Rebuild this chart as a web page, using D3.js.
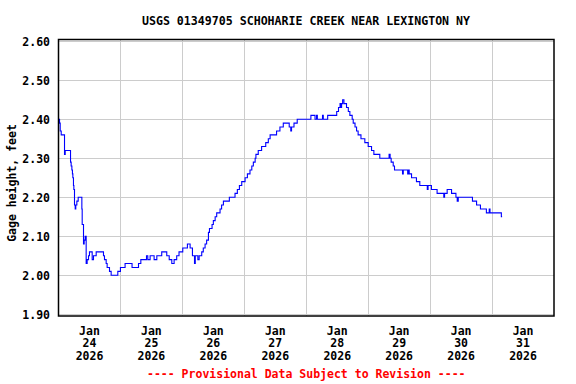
<!DOCTYPE html>
<html>
<head>
<meta charset="utf-8">
<script src="https://cdn.jsdelivr.net/npm/d3@7"></script>
<style>
  body { margin: 0; background: #fff; }
  text { font-family: "DejaVu Sans Mono", monospace; font-weight: bold; }
</style>
</head>
<body>
<script>
// hours after Jan 24 2026 00:00 and gage height (ft) at each step
const hours = [0, 0.4, 0.66, 1.05, 2.33, 2.6, 4.66, 4.9, 5.18, 5.4, 5.56, 5.8, 5.95, 6.2, 6.47, 6.7, 7.11, 7.63,
  9.05, 9.18, 9.69, 9.95, 10.34, 10.72, 11.1, 11.63, 12.0, 13.05, 13.56, 14.6, 17.43, 17.82, 18.47, 18.85,
  19.76, 20.4, 22.98, 24.0, 25.8, 28.5, 31.0, 31.9, 34.1, 34.6, 35.5, 37.05, 38.1, 40.0, 41.95, 42.9, 43.9,
  44.8, 45.8, 46.7, 48.15, 49.95, 51.0, 51.9, 52.7, 53.0, 54.0, 54.5, 55.5, 56.1, 56.8, 57.4, 58.1, 58.5,
  59.5, 60.0, 60.7, 61.3, 62.6, 63.2, 63.9, 66.2, 68.4, 69.3, 70.1, 71.0, 72.3, 73.2, 74.2, 74.9, 75.5,
  76.2, 76.5, 77.4, 78.7, 80.3, 81.3, 82.0, 84.5, 85.8, 87.1, 89.4, 90.0, 90.3, 91.25, 92.5, 97.8, 99.4,
  100.0, 100.3, 102.3, 102.6, 104.3, 107.8, 108.5, 109.1, 109.5, 109.7, 110.1, 110.6, 111.6, 112.3, 112.9,
  113.8, 114.2, 114.9, 115.5, 116.1, 117.2, 118.7, 120.0, 121.3, 122.2, 124.5, 128.1, 128.5, 128.9, 129.7,
  130.2, 133.3, 133.6, 135.3, 135.6, 135.9, 136.8, 138.7, 140.0, 142.9, 143.2, 144.5, 146.7, 149.3, 149.6,
  150.6, 152.3, 154.0, 154.5, 154.9, 160.4, 162.0, 163.5, 165.8, 166.9, 167.2, 171.6, 171.9];
const gage = [2.40, 2.39, 2.37, 2.36, 2.31, 2.32, 2.29, 2.28, 2.27, 2.26, 2.25, 2.23, 2.22, 2.18, 2.17, 2.18, 2.19, 2.20,
  2.17, 2.13, 2.08, 2.09, 2.10, 2.03, 2.04, 2.05, 2.06, 2.04, 2.05, 2.06, 2.05, 2.04, 2.03, 2.02,
  2.01, 2.00, 2.01, 2.02, 2.03, 2.02, 2.03, 2.04, 2.05, 2.04, 2.05, 2.04, 2.05, 2.06, 2.05, 2.04, 2.03,
  2.04, 2.05, 2.06, 2.07, 2.08, 2.07, 2.05, 2.03, 2.05, 2.04, 2.05, 2.06, 2.07, 2.08, 2.09, 2.11, 2.12,
  2.13, 2.14, 2.15, 2.16, 2.17, 2.18, 2.19, 2.20, 2.21, 2.22, 2.23, 2.24, 2.25, 2.26, 2.27, 2.28, 2.29,
  2.30, 2.31, 2.32, 2.33, 2.34, 2.35, 2.36, 2.37, 2.38, 2.39, 2.38, 2.37, 2.38, 2.39, 2.40, 2.41, 2.40,
  2.41, 2.40, 2.41, 2.40, 2.41, 2.42, 2.43, 2.44, 2.43, 2.44, 2.45, 2.44, 2.43, 2.42, 2.41,
  2.40, 2.39, 2.38, 2.37, 2.36, 2.35, 2.34, 2.33, 2.32, 2.31, 2.30, 2.31, 2.30, 2.29, 2.28,
  2.27, 2.26, 2.27, 2.26, 2.27, 2.26, 2.25, 2.24, 2.23, 2.22, 2.23, 2.22, 2.21, 2.20, 2.21,
  2.22, 2.21, 2.20, 2.19, 2.20, 2.19, 2.18, 2.17, 2.16, 2.17, 2.16, 2.15, 2.15];

const yTicks = [1.90, 2.00, 2.10, 2.20, 2.30, 2.40, 2.50, 2.60];
const dayLabels = ["24", "25", "26", "27", "28", "29", "30", "31"];

const title = "USGS 01349705 SCHOHARIE CREEK NEAR LEXINGTON NY";
const yTitle = "Gage height, feet";
const footer = "---- Provisional Data Subject to Revision ----";

const width = 576, height = 384;
const plotLeft = 58.5, plotRight = 554, plotTop = 39.5, plotBottom = 316;

const start = Date.UTC(2026, 0, 24);
const data = hours.map((h, i) => ({ t: new Date(start + h * 3600e3), v: gage[i] }));

const x = d3.scaleUtc()
  .domain([new Date(start), new Date(Date.UTC(2026, 1, 1))])
  .range([plotLeft, plotRight]);
const y = d3.scaleLinear().domain([1.8955, 2.6045]).range([plotBottom, plotTop]);

const svg = d3.select("body").append("svg")
  .attr("width", width).attr("height", height);

// grid
const days = d3.utcDay.range(new Date(Date.UTC(2026, 0, 25)), new Date(Date.UTC(2026, 1, 1)));
svg.append("g").selectAll("line").data(days).join("line")
  .attr("x1", d => Math.round(x(d)) + 0.5).attr("x2", d => Math.round(x(d)) + 0.5)
  .attr("y1", plotTop).attr("y2", plotBottom)
  .attr("stroke", "#cccccc").attr("stroke-width", 1);
svg.append("g").selectAll("line").data(yTicks).join("line")
  .attr("x1", plotLeft).attr("x2", plotRight)
  .attr("y1", d => Math.round(y(d)) + 0.5).attr("y2", d => Math.round(y(d)) + 0.5)
  .attr("stroke", "#cccccc").attr("stroke-width", 1);

// series
const line = d3.line().x(d => x(d.t)).y(d => y(d.v)).curve(d3.curveStepAfter);
svg.append("path").datum(data)
  .attr("d", line)
  .attr("fill", "none")
  .attr("stroke", "#0000ff")
  .attr("stroke-width", 1.1);

// frame
svg.append("rect")
  .attr("x", plotLeft).attr("y", plotTop)
  .attr("width", plotRight - plotLeft).attr("height", plotBottom - plotTop)
  .attr("fill", "none").attr("stroke", "#000").attr("stroke-width", 1.5);

// y tick labels
svg.append("g").selectAll("text").data(yTicks).join("text")
  .attr("x", 50).attr("y", d => y(d) + 5)
  .attr("text-anchor", "end")
  .attr("font-size", 11.5)
  .text(d => d3.format(".2f")(d));

// x tick labels at noon of each day
const labels = svg.append("g").selectAll("g").data(dayLabels).join("g")
  .attr("transform", (d, i) => "translate(" + x(new Date(start + (i * 24 + 12) * 3600e3)) + ",0)");
labels.append("text").attr("y", 334.5).attr("text-anchor", "middle").attr("font-size", 11.5).text("Jan");
labels.append("text").attr("y", 347).attr("text-anchor", "middle").attr("font-size", 11.5).text(d => d);
labels.append("text").attr("y", 360).attr("text-anchor", "middle").attr("font-size", 11.5).text("2026");

// titles
svg.append("text")
  .attr("x", 306).attr("y", 25)
  .attr("text-anchor", "middle").attr("font-size", 11.6)
  .text(title);
svg.append("text")
  .attr("transform", "translate(16,183) rotate(-90)")
  .attr("text-anchor", "middle").attr("font-size", 11.5)
  .text(yTitle);
svg.append("text")
  .attr("x", (plotLeft + plotRight) / 2).attr("y", 378)
  .attr("text-anchor", "middle").attr("font-size", 11.5)
  .attr("fill", "#ff0000")
  .text(footer);
</script>
</body>
</html>
